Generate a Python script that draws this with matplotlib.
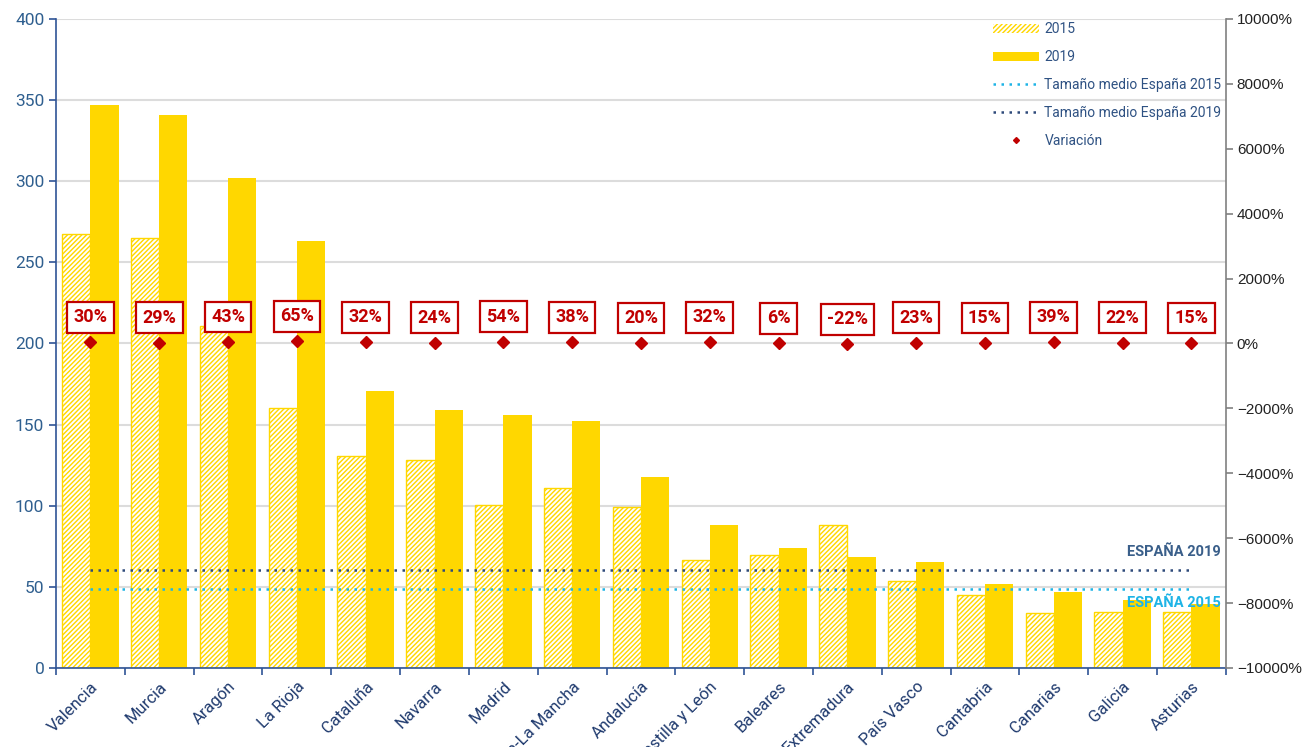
import numpy as np
import matplotlib
matplotlib.use("Agg")
import matplotlib.pyplot as plt
from matplotlib.patches import Patch
from matplotlib.lines import Line2D
from matplotlib.ticker import PercentFormatter

regiones = ["Valencia", "Murcia", "Aragón", "La Rioja", "Cataluña", "Navarra", "Madrid",
            "Castilla-La Mancha", "Andalucía", "Castilla y León", "Baleares", "Extremadura",
            "País Vasco", "Cantabria", "Canarias", "Galicia", "Asturias"]
tam_2015 = [267.5, 265, 211, 160, 130.5, 128, 100.5, 111, 99, 66.5, 69.5, 88, 53.5, 45, 34, 34.5, 34.5]
tam_2019 = [347, 341, 302, 263, 171, 159, 156, 152, 118, 88, 74, 68.5, 65.5, 52, 47, 42, 39.7]
variacion = [0.30, 0.29, 0.43, 0.65, 0.32, 0.24, 0.54, 0.38, 0.20, 0.32, 0.06, -0.22, 0.23, 0.15, 0.39, 0.22, 0.15]
media_2015 = 48.7
media_2019 = 60.4

AMARILLO = "#ffd700"
AZUL = "#1f3a6e"
AZUL_TXT = "#2f5283"
CIAN = "#1eb4e6"
ROJO = "#c00000"

plt.rcParams["font.family"] = ["Roboto", "DejaVu Sans"]
plt.rcParams["hatch.linewidth"] = 1.4

fig = plt.figure(figsize=(13.04, 7.47), dpi=100)
ax = fig.add_axes([0.043, 0.1058, 0.897, 0.8688])
ax2 = ax.twinx()

x = np.arange(len(regiones))
w = 0.41

# 2015: amarillo con rayado blanco
ax.bar(x - w / 2, tam_2015, w, color=AMARILLO, edgecolor="white", hatch="///////", lw=0, zorder=2)
ax.bar(x - w / 2, tam_2015, w, facecolor="none", edgecolor=AMARILLO, lw=1, zorder=2)
ax.bar(x + w / 2, tam_2019, w, color=AMARILLO, lw=0, zorder=2)

ax.plot([x[0], x[-1]], [media_2019, media_2019], ls=(0, (1, 2.2)), color="#2e4a7a", lw=1.8, zorder=3)
ax.plot([x[0], x[-1]], [media_2015, media_2015], ls=(0, (1, 2.2)), color=CIAN, lw=1.8, zorder=3)
ax.text(16.42, 71.5, "ESPAÑA 2019", color="#3a5f8a", fontsize=10.5, fontweight="bold",
        ha="right", va="center", zorder=4)
ax.text(16.42, 40, "ESPAÑA 2015", color=CIAN, fontsize=10.5, fontweight="bold",
        ha="right", va="center", zorder=4)

ax.set_xlim(-0.5, len(regiones) - 0.5)
ax.set_ylim(0, 400)
ax.set_yticks(np.arange(0, 401, 50))
ax.yaxis.grid(True, color="#dcdcdc", lw=1.5, zorder=0)
ax.set_axisbelow(True)
ax.tick_params(axis="y", colors="#2f5496", labelsize=12.5, length=5, width=1.2)
for t in ax.get_yticklabels():
    t.set_color("#2f5f8f")

ax.set_xticks(x)
ax.set_xticklabels(regiones, rotation=45, ha="right", rotation_mode="anchor",
                   color=AZUL, fontsize=12)
ax.tick_params(axis="x", which="major", length=0, pad=8)
ax.set_xticks(np.arange(-0.5, len(regiones), 1), minor=True)
ax.tick_params(axis="x", which="minor", length=5, width=1.2, color="#2f5496")

for s in ["top", "right"]:
    ax.spines[s].set_visible(False)
ax.spines["left"].set_color("#2f5496")
ax.spines["bottom"].set_color("#2f5496")
ax.spines["left"].set_linewidth(1.2)
ax.spines["bottom"].set_linewidth(1.2)

# eje derecho: variación
ax2.plot(x, variacion, ls="none", marker="D", ms=6, color=ROJO, zorder=5)
for xi, v in zip(x, variacion):
    ax2.annotate(f"{v * 100:.0f}%", (xi, v), xytext=(0, 18), textcoords="offset points",
                 ha="center", va="center", color=ROJO, fontsize=13, fontweight="bold",
                 bbox=dict(boxstyle="square,pad=0.35", fc="white", ec=ROJO, lw=1.6), zorder=6)
ax2.set_ylim(-100, 100)
ax2.set_yticks(np.arange(-100, 101, 20))
ax2.yaxis.set_major_formatter(PercentFormatter(xmax=1, decimals=0))
ax2.tick_params(axis="y", colors="#808080", labelsize=11, length=5, width=1.2, pad=3)
for t in ax2.get_yticklabels():
    t.set_color("#222222")
    t.set_family(["Liberation Sans", "DejaVu Sans"])
for s in ["top", "left", "bottom"]:
    ax2.spines[s].set_visible(False)
ax2.spines["right"].set_color("#808080")
ax2.spines["right"].set_linewidth(1.2)

handles = [
    Patch(facecolor=AMARILLO, edgecolor="white", hatch="///////", lw=0),
    Patch(facecolor=AMARILLO, lw=0),
    Line2D([], [], ls=(0, (1, 2.2)), color=CIAN, lw=1.8),
    Line2D([], [], ls=(0, (1, 2.2)), color="#2e4a7a", lw=1.8),
    Line2D([], [], ls="none", marker="D", ms=3, color=ROJO),
]
labels = ["2015", "2019", "Tamaño medio España 2015", "Tamaño medio España 2019", "Variación"]
leg = ax2.legend(handles, labels, loc="upper left", bbox_to_anchor=(0.801, 0.995),
                 frameon=False, fontsize=10, labelspacing=1.0, handlelength=3.3,
                 handleheight=0.6, handletextpad=0.4, borderpad=0, borderaxespad=0)
for t in leg.get_texts():
    t.set_color(AZUL_TXT)

fig.savefig("out.png", dpi=100)
